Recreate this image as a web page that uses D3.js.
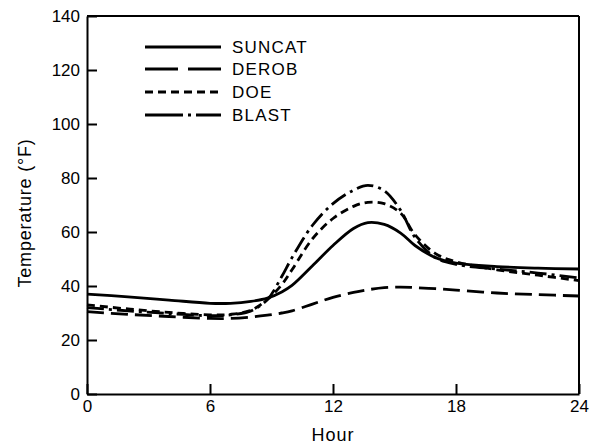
<!DOCTYPE html>
<html>
<head>
<meta charset="utf-8">
<script src="https://cdn.jsdelivr.net/npm/d3@7"></script>
<style>
  html, body { margin: 0; padding: 0; background: #fff; }
  svg { display: block; font-family: "Liberation Sans", Arial, Helvetica, sans-serif; }
</style>
</head>
<body>
<svg id="chart" width="600" height="446"></svg>
<script>
// ---- data ----
const hours = [0, 2, 4, 6, 7, 8, 8.8, 9.5, 10, 11, 12, 13, 13.7, 14.5, 15.3, 16, 17, 18, 20, 22, 24];
const suncat = [37, 36, 34.8, 33.6, 33.6, 34.3, 35.5, 37.8, 40.2, 47.5, 55, 61.3, 63.5, 62.8, 59.6, 55, 50.5, 48.5, 47.2, 46.6, 46.3];
const derob  = [30.5, 29.5, 28.7, 28, 28, 28.5, 29.2, 30, 30.8, 33.3, 35.8, 37.6, 38.6, 39.4, 39.6, 39.4, 39, 38.5, 37.4, 36.8, 36.3];
const doe    = [33, 31.5, 30.2, 29.3, 29.5, 31, 35, 40.5, 46, 57.5, 65, 69.5, 71, 70.5, 67, 59, 52, 49, 46, 44, 42];
const blast  = [32, 30.8, 29.8, 29, 29.3, 30.8, 35, 43.5, 50.5, 62.5, 70.5, 75.5, 77.3, 75.3, 68, 58, 50.5, 48, 46.3, 44.8, 43];
const seriesNames = ["SUNCAT", "DEROB", "DOE", "BLAST"];
const xTicks = [0, 6, 12, 18, 24];
const yTicks = [0, 20, 40, 60, 80, 100, 120, 140];

// ---- layout ----
const svg = d3.select("#chart");
const mLeft = 87, mRight = 579, mTop = 16, mBottom = 394;
const x = d3.scaleLinear().domain([0, 24]).range([mLeft, mRight]);
const y = d3.scaleLinear().domain([0, 140]).range([mBottom, mTop]);

const dashes = {
  SUNCAT: null,
  DEROB: "17,7",
  DOE: "8,5",
  BLAST: "17,5,3,5"
};
const dataMap = { SUNCAT: suncat, DEROB: derob, DOE: doe, BLAST: blast };

// axes
const yAxis = d3.axisLeft(y).tickValues(yTicks).tickSizeInner(-10).tickSizeOuter(0).tickPadding(7);
const xAxis = d3.axisBottom(x).tickValues(xTicks).tickSizeInner(-10).tickSizeOuter(0).tickPadding(7);

const gy = svg.append("g").attr("transform", `translate(${mLeft},0)`).call(yAxis);
const gx = svg.append("g").attr("transform", `translate(0,${mBottom})`).call(xAxis);
[gy, gx].forEach(g => {
  g.selectAll("path.domain").attr("stroke", "#000").attr("stroke-width", 2);
  g.selectAll(".tick line").attr("stroke", "#000").attr("stroke-width", 2);
  g.selectAll(".tick text").attr("fill", "#000").attr("font-size", 17)
    .attr("font-family", "'Liberation Sans', Arial, sans-serif");
});
gy.selectAll(".tick text").attr("dy", "0.3em");
gx.selectAll(".tick text").attr("dy", "0.65em");

// frame top and right
svg.append("line").attr("x1", x(0)).attr("x2", x(24)).attr("y1", y(140)).attr("y2", y(140))
  .attr("stroke", "#000").attr("stroke-width", 2);
svg.append("line").attr("x1", x(24)).attr("x2", x(24)).attr("y1", y(140)).attr("y2", y(0))
  .attr("stroke", "#000").attr("stroke-width", 2);

// axis titles
svg.append("text").attr("x", (mLeft + mRight) / 2).attr("y", 441)
  .attr("text-anchor", "middle").attr("font-size", 18).attr("letter-spacing", 1)
  .text("Hour");
svg.append("text")
  .attr("transform", `translate(31,${(mTop + mBottom) / 2 + 8}) rotate(-90)`)
  .attr("text-anchor", "middle").attr("font-size", 18).attr("letter-spacing", 0.8)
  .text("Temperature (°F)");

// lines
const line = d3.line().x(d => x(d[0])).y(d => y(d[1])).curve(d3.curveCatmullRom.alpha(0.5));
seriesNames.forEach(name => {
  const pts = hours.map((h, i) => [h, dataMap[name][i]]);
  svg.append("path").datum(pts)
    .attr("d", line)
    .attr("fill", "none")
    .attr("stroke", "#000")
    .attr("stroke-width", 2.8)
    .attr("stroke-dasharray", dashes[name]);
});

// legend
const legY = [47, 69, 92, 115];
seriesNames.forEach((name, i) => {
  svg.append("line").attr("x1", 145).attr("x2", 221).attr("y1", legY[i]).attr("y2", legY[i])
    .attr("stroke", "#000").attr("stroke-width", 3)
    .attr("stroke-dasharray", name === "DEROB" ? "33,10" : name === "BLAST" ? "38,5,3,5" : dashes[name]);
  svg.append("text").attr("x", 232).attr("y", legY[i]).attr("dy", "0.36em")
    .attr("font-size", 17).attr("letter-spacing", 1.2)
    .text(name);
});
</script>
</body>
</html>
